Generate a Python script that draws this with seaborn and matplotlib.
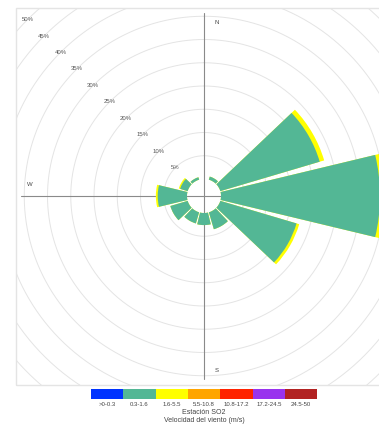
import numpy as np
import pandas as pd
import matplotlib
matplotlib.use("Agg")
import matplotlib.pyplot as plt
from matplotlib.patches import Rectangle
import seaborn as sns

# Wind direction sectors (degrees, clockwise from north) and frequency (%) per speed class
directions = [0, 30, 60, 90, 120, 150, 180, 210, 240, 270, 300, 330]
freq_03_16 = [0.0, 0.7, 22.3, 34.2, 17.1, 3.8, 2.6, 2.5, 3.9, 6.3, 1.7, 0.55]
freq_16_55 = [0.0, 0.0, 1.0, 1.0, 0.6, 0.0, 0.0, 0.0, 0.0, 0.4, 0.3, 0.0]

speed_bins = [">0-0.3", "0.3-1.6", "1.6-5.5", "5.5-10.8", "10.8-17.2", "17.2-24.5", "24.5-50"]
bin_colors = ["#0033ff", "#53b795", "#ffff00", "#ffa500", "#ff2200", "#9933ee", "#b22222"]

ring_values = [5, 10, 15, 20, 25, 30, 35, 40, 45, 50]
compass = [("N", 217, 23), ("S", 217, 371), ("W", 30, 184)]

sns.set_theme(style="white")
plt.rcParams["font.family"] = ["Liberation Sans", "DejaVu Sans"]

W, H = 379, 426
cx, cy = 204, 196          # centre of the rose, pixels from top-left
hole = 17                  # radius of the empty centre, pixels
ppu = 4.65                 # pixels per 1 %
rmax = 55
axis_r = 35.7              # reach of the compass axis lines
R = hole + ppu * rmax

fig = plt.figure(figsize=(W / 100, H / 100), dpi=100)
ax = fig.add_axes([(cx - R) / W, (H - cy - R) / H, 2 * R / W, 2 * R / H],
                  projection="polar")
ax.set_theta_zero_location("N")
ax.set_theta_direction(-1)

df = pd.DataFrame({
    "theta": np.deg2rad(directions),
    "low": freq_03_16,
    "total": np.add(freq_03_16, freq_16_55),
})
df = df[df["total"] > 0]

# stacked sectors: full stack in yellow, the lower class drawn over it
sns.barplot(data=df, x="theta", y="total", native_scale=True, width=0.9,
            color=bin_colors[2], saturation=1, linewidth=0, errorbar=None,
            ax=ax, zorder=3)
sns.barplot(data=df, x="theta", y="low", native_scale=True, width=0.9,
            color=bin_colors[1], saturation=1, linewidth=0, errorbar=None,
            ax=ax, zorder=3)

ax.set_xlabel("")
ax.set_ylabel("")
ax.set_xlim(0, 2 * np.pi)
ax.set_ylim(0, rmax)
ax.set_rorigin(-hole / ppu)
ax.set_xticks([])
ax.set_yticks([])
ax.grid(False)
for sp in ax.spines.values():
    sp.set_linewidth(0)
    sp.set_edgecolor("none")
ax.patch.set_alpha(0)

# plot frame and clipping region
frame_x0, frame_y0, frame_y1 = 16, 8, 385
clip = Rectangle((frame_x0 / W, (H - frame_y1) / H), (W + 20 - frame_x0) / W,
                 (frame_y1 - frame_y0) / H, transform=fig.transFigure,
                 fill=False, edgecolor="none")
fig.add_artist(Rectangle((frame_x0 / W, (H - frame_y1) / H), (W + 20 - frame_x0) / W,
                         (frame_y1 - frame_y0) / H, transform=fig.transFigure,
                         fill=False, edgecolor="#e4e4e4", lw=1.0))

clipped = []
th = np.linspace(0, 2 * np.pi, 721)
for v in ring_values:
    clipped += ax.plot(th, np.full_like(th, v), color="#e4e4e4", lw=0.7, zorder=1)
    ax.text(np.deg2rad(315), v, f"{v}%", ha="center", va="center",
            fontsize=4.3, color="#555555", zorder=4)

for d in [0, 90, 180, 270]:
    clipped += ax.plot([np.deg2rad(d)] * 2, [-hole / ppu, axis_r],
                       color="#8a8a8a", lw=0.8, zorder=2)

clipped += list(ax.patches)
for art in clipped:
    art.set_clip_path(clip)

for lab, px, py in compass:
    fig.text(px / W, 1 - py / H, lab, ha="center", va="center",
             fontsize=4.3, color="#444444")

# speed class legend strip
leg = fig.add_axes([91 / W, (H - 398.7) / H, (317.3 - 91) / W, 9.7 / H])
sns.barplot(x=speed_bins, y=[1] * len(speed_bins), hue=speed_bins,
            palette=bin_colors, width=1, saturation=1, linewidth=0,
            legend=False, ax=leg)
leg.set_xlim(-0.5, len(speed_bins) - 0.5)
leg.set_ylim(0, 1)
leg.set_yticks([])
leg.set_xlabel("")
leg.set_ylabel("")
for s in leg.spines.values():
    s.set_visible(False)
leg.tick_params(axis="x", length=0, labelsize=4.3, labelcolor="#444444", pad=2.5)

fig.text(204 / W, 1 - 412.7 / H, "Estación SO2", ha="center", va="center",
         fontsize=5.0, color="#444444")
fig.text(204 / W, 1 - 420.3 / H, "Velocidad del viento (m/s)", ha="center",
         va="center", fontsize=5.0, color="#444444")

fig.savefig("out.png", dpi=100)
